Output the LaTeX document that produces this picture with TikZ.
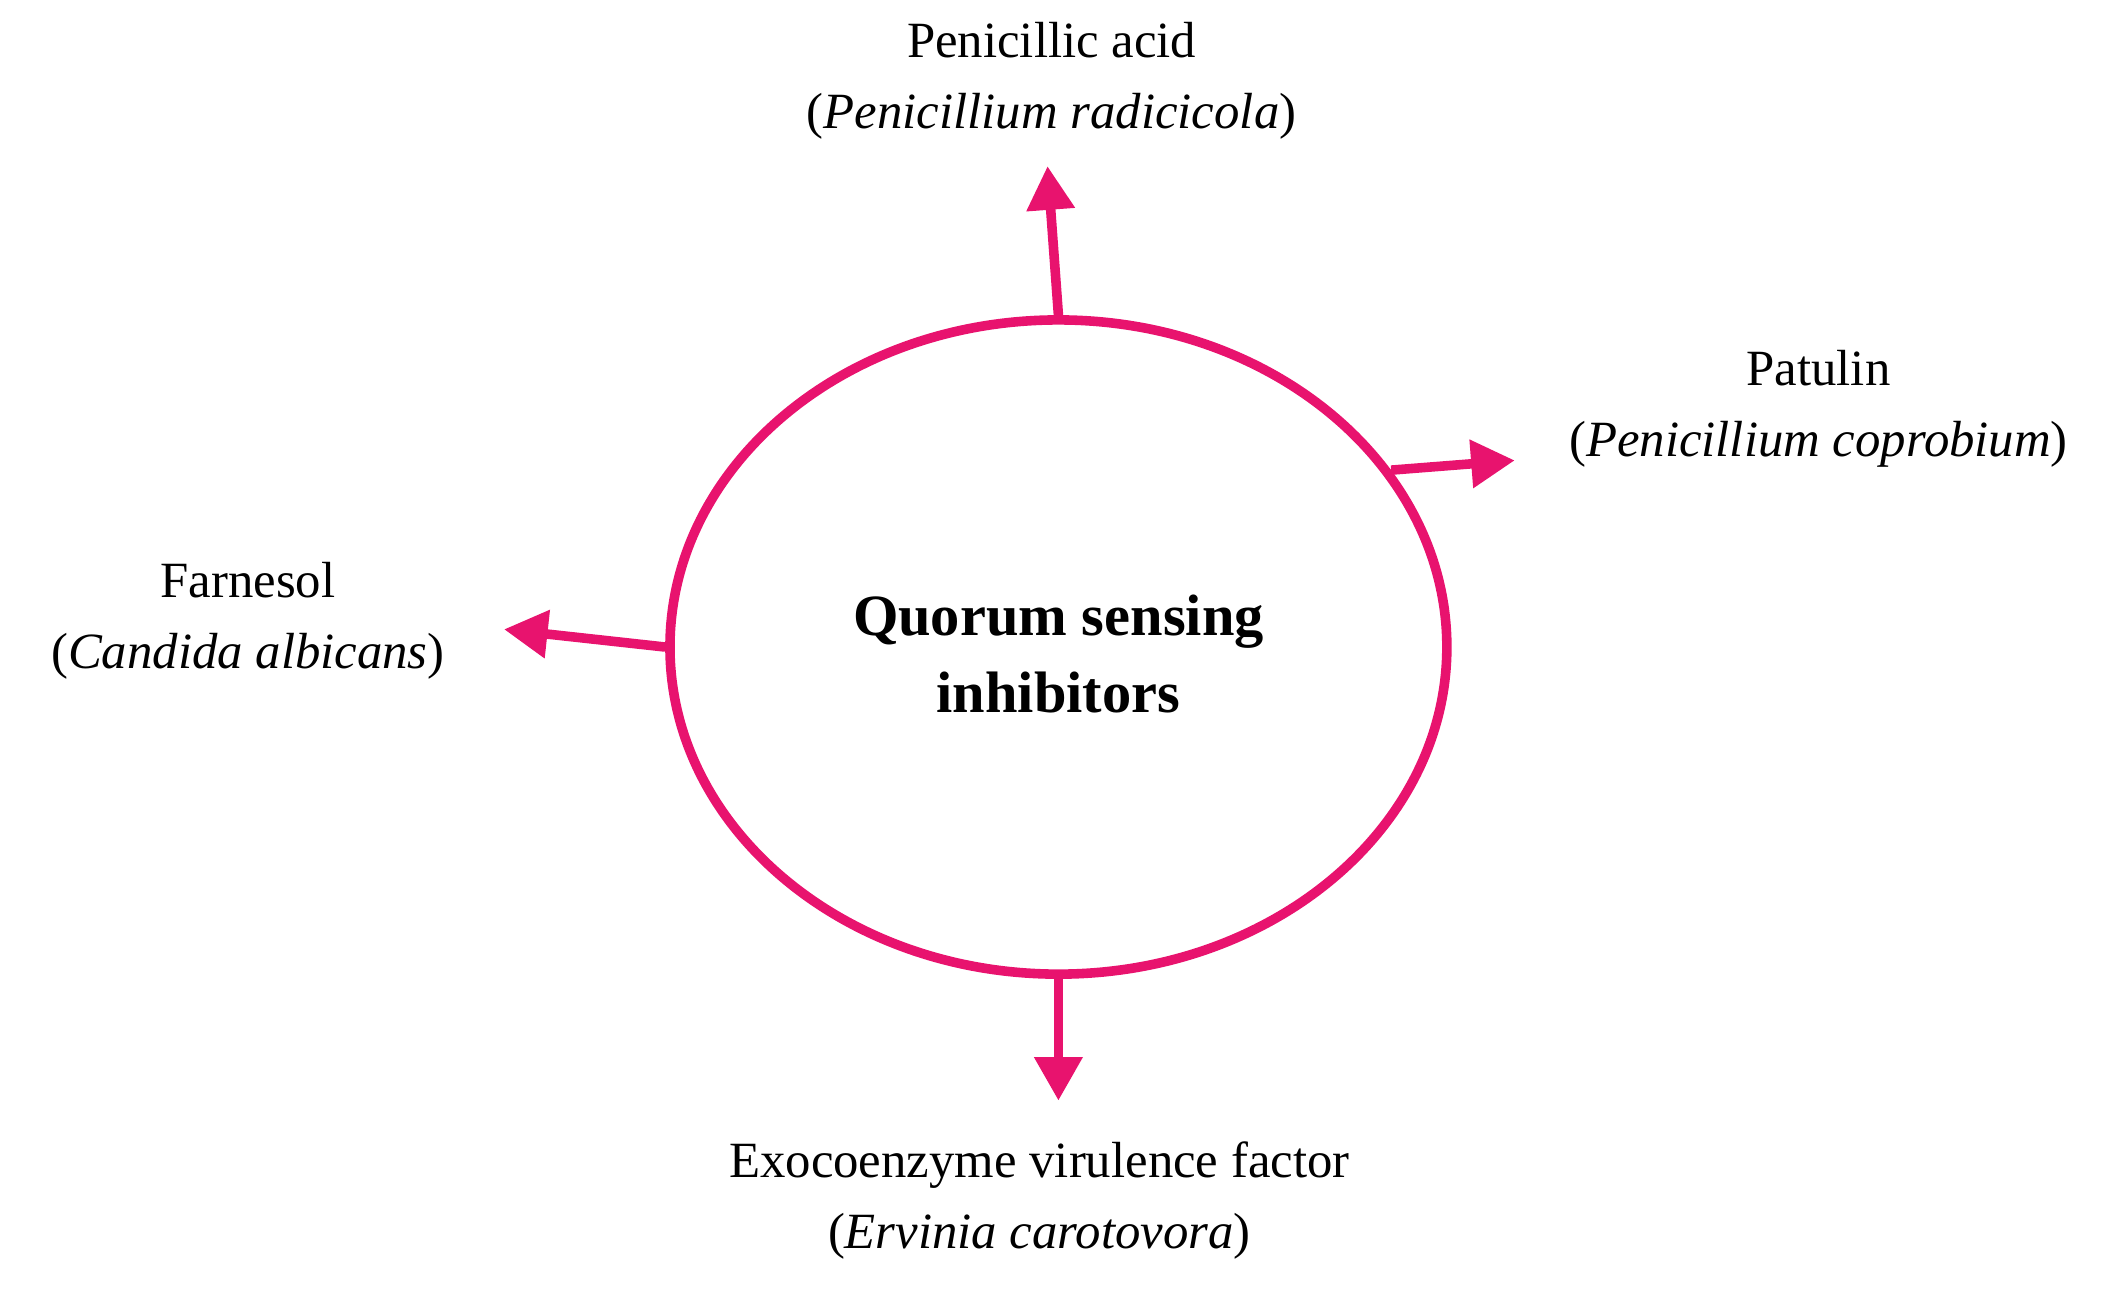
\documentclass[tikz,border=0pt]{standalone}
\usepackage{fontspec}
\setmainfont{Liberation Serif}
\usetikzlibrary{arrows.meta,shapes.geometric}
\definecolor{qpink}{HTML}{E8136E}
\begin{document}
\begin{tikzpicture}[x=0.01cm,y=-0.01cm,
  arr/.style={draw=qpink,line width=2pt,-{Triangle[length=0.32cm,width=0.34cm]}},
  lab/.style={align=center,font=\fontsize{10.6}{14.8}\selectfont,inner sep=0pt}]
\useasboundingbox (0,0) rectangle (1560,946);
\node[draw=qpink,line width=2pt,ellipse,minimum width=5.7cm,minimum height=4.8cm,inner sep=0pt] (c) at (777,475) {};
\node[align=center,font=\fontsize{12.2}{16}\selectfont\bfseries] (ct) at (777,480) {Quorum sensing\\inhibitors};
\coordinate (t1) at (769,122); \coordinate (t2) at (1112,338);
\coordinate (t3) at (370,462); \coordinate (t4) at (777,808);
\draw[arr] (c.90) -- (t1);
\draw[arr] (c.28) -- (t2);
\draw[arr] (c.180) -- (t3);
\draw[arr] (c.270) -- (t4);
\node[lab] (l1) at (772,59) {Penicillic acid\\(\textit{Penicillium radicicola})};
\node[lab] (l2) at (1335,300) {Patulin\\(\textit{Penicillium coprobium})};
\node[lab] (l3) at (182,456) {Farnesol\\(\textit{Candida albicans})};
\node[lab] (l4) at (763,881) {Exocoenzyme virulence factor\\(\textit{Ervinia carotovora})};
\end{tikzpicture}
\end{document}
